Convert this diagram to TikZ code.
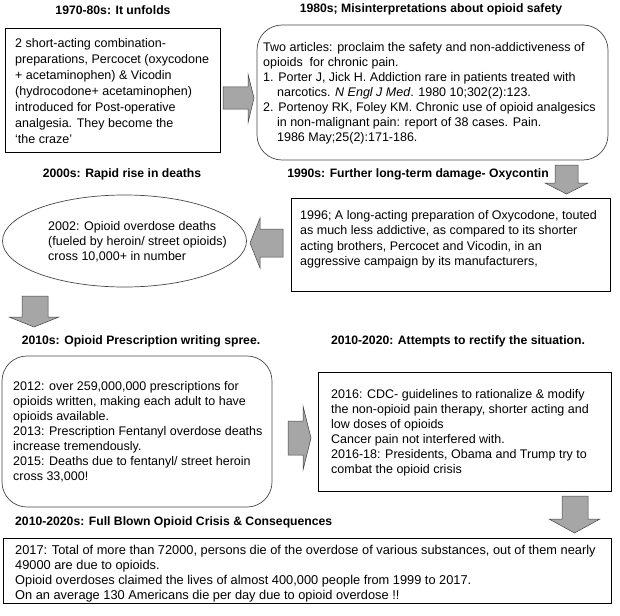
\documentclass[tikz,border=0pt]{standalone}
\usepackage{fontspec}
\setmainfont{Liberation Sans}
\definecolor{arrowgray}{RGB}{166,166,166}
\definecolor{edgegray}{RGB}{70,70,70}
\begin{document}
\begin{tikzpicture}[x=1pt,y=-1pt,
  box/.style={draw=black, line width=0.9pt},
  rbox/.style={draw=edgegray, line width=0.7pt, rounded corners=25pt},
  oval/.style={draw=edgegray, line width=0.7pt},
  blockarrow/.style={fill=arrowgray, draw=edgegray, line width=0.5pt, line join=miter},
  title/.style={font=\fontsize{12.2}{14}\selectfont\bfseries, inner sep=0pt},
  body/.style={font=\fontsize{12.5}{15}\selectfont, align=left, anchor=north west, inner sep=0pt},
  bodywide/.style={body, font=\fontsize{12.5}{16}\selectfont}]
\useasboundingbox (0,0) rectangle (620,615);

% titles
\node[title] (t1) at (113,10) {1970-80s: It unfolds};
\node[title] (t2) at (431,9) {1980s; Misinterpretations about opioid safety};
\node[title] (t3) at (122,174) {2000s: Rapid rise in deaths};
\node[title] (t4) at (418,174) {1990s: Further long-term damage- Oxycontin};
\node[title] (t5) at (141,341) {2010s: Opioid Prescription writing spree.};
\node[title] (t6) at (458,341) {2010-2020: Attempts to rectify the situation.};
\node[title, anchor=west] (t7) at (15,522) {2010-2020s: Full Blown Opioid Crisis \& Consequences};

% box 1
\draw[box] (5,28) rectangle (220,152);
\node[bodywide] (b1) at (15,38) {2 short-acting combination-\\
preparations, Percocet (oxycodone\\
+ acetaminophen) \& Vicodin\\
(hydrocodone+ acetaminophen)\\
introduced for Post-operative\\
analgesia. They become the\\
‘the craze’};

% box 2
\draw[rbox] (257,25) rectangle (608,160);
\node[body] (b2) at (263,42.5) {Two articles: proclaim the safety and non-addictiveness of\\
opioids\ \ for chronic pain.\\
1. Porter J, Jick H. Addiction rare in patients treated with\\
\hspace*{13.9pt}narcotics. \textit{N Engl J Med}. 1980 10;302(2):123.\\
2. Portenoy RK, Foley KM. Chronic use of opioid analgesics\\
\hspace*{13.9pt}in non-malignant pain: report of 38 cases. Pain.\\
\hspace*{13.9pt}1986 May;25(2):171-186.};

% box 4
\draw[box] (291,198) rectangle (610,291);
\node[body, font=\fontsize{12.5}{15.5}\selectfont] (b4) at (300,210) {1996; A long-acting preparation of Oxycodone, touted\\
as much less addictive, as compared to its shorter\\
acting brothers, Percocet and Vicodin, in an\\
aggressive campaign by its manufacturers,};

% ellipse
\draw[oval] (124.5,241) ellipse [x radius=122pt, y radius=46pt];
\node[body] (b3) at (48,221) {2002: Opioid overdose deaths\\
(fueled by heroin/ street opioids)\\
cross 10,000+ in number};

% box 5
\draw[rbox] (2,356) rectangle (272,507);
\node[body] (b5) at (13,381) {2012: over 259,000,000 prescriptions for\\
opioids written, making each adult to have\\
opioids available.\\
2013: Prescription Fentanyl overdose deaths\\
increase tremendously.\\
2015: Deaths due to fentanyl/ street heroin\\
cross 33,000!};

% box 6
\draw[box] (318,372) rectangle (611,491);
\node[body] (b6) at (331,389) {2016: CDC- guidelines to rationalize \& modify\\
the non-opioid pain therapy, shorter acting and\\
low doses of opioids\\
Cancer pain not interfered with.\\
2016-18: Presidents, Obama and Trump try to\\
combat the opioid crisis};

% box 7
\draw[box] (3,538) rectangle (611,603);
\node[body, font=\fontsize{12.8}{15}\selectfont] (b7) at (15,545) {2017: Total of more than 72000, persons die of the overdose of various substances, out of them nearly\\
49000 are due to opioids.\\
Opioid overdoses claimed the lives of almost 400,000 people from 1999 to 2017.\\
On an average 130 Americans die per day due to opioid overdose !!};

% block arrows
\draw[blockarrow] (223,87) -- (248,87) -- (248,74) -- (254,98) -- (248,123) -- (248,109) -- (223,109) -- cycle;
\draw[blockarrow] (555,165) -- (578,165) -- (578,183) -- (588,183) -- (566.5,194) -- (545,183) -- (555,183) -- cycle;
\draw[blockarrow] (283,229) -- (260,229) -- (260,218) -- (250,243) -- (260,268) -- (260,257) -- (283,257) -- cycle;
\draw[blockarrow] (22,296) -- (48,296) -- (48,317) -- (59,317) -- (34,327) -- (9,317) -- (22,317) -- cycle;
\draw[blockarrow] (288,421) -- (303,421) -- (303,406) -- (311,438) -- (303,470) -- (303,455) -- (288,455) -- cycle;
\draw[blockarrow] (562,496) -- (588,496) -- (588,519) -- (600,519) -- (574.5,533) -- (549,519) -- (562,519) -- cycle;
\end{tikzpicture}
\end{document}
